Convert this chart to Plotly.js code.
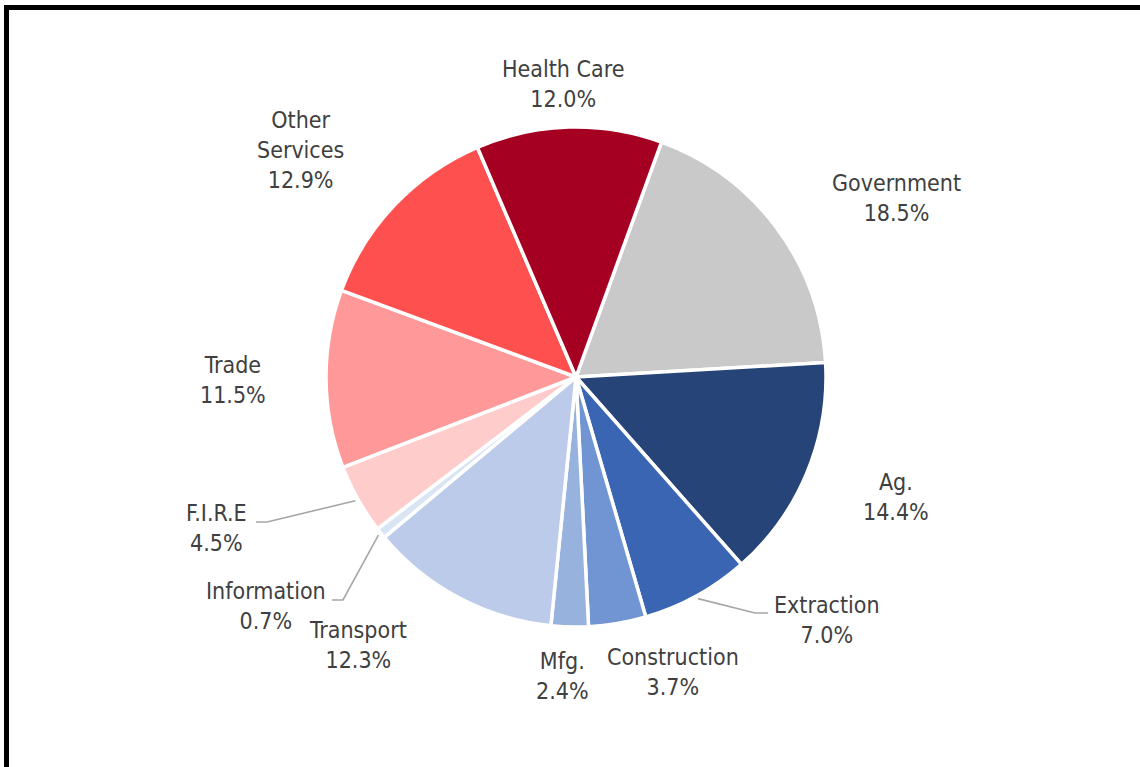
<!DOCTYPE html>
<html>
<head>
<meta charset="utf-8">
<script src="https://cdn.plot.ly/plotly-3.0.1.min.js"></script>
<style>
html,body{margin:0;padding:0;background:#fff;}
#wrap{position:relative;width:1140px;height:767px;overflow:hidden;}
#frame{position:absolute;left:4px;top:5px;width:1200px;height:800px;border-left:5px solid #000;border-top:5px solid #000;box-sizing:border-box;pointer-events:none;}
#chart{position:absolute;left:0;top:0;width:1140px;height:767px;}
</style>
</head>
<body>
<div id="wrap">
<div id="chart"></div>
<div id="frame"></div>
</div>
<script>
// ---- data ----
var categories = ["Government","Ag.","Extraction","Construction","Mfg.","Transport","Information","F.I.R.E","Trade","Other<br>Services","Health Care"];
var shares = [18.5,14.4,7.0,3.7,2.4,12.3,0.7,4.5,11.5,12.9,12.0];
var sliceColors = ["#C9C9C9","#264478","#3A65B2","#7195D2","#98B2DE","#BBCBE9","#DAE5F4","#FFCCCC","#FF9999","#FF5050","#A50021"];

// ---- layout (pixels) ----
var W = 1140, H = 767;
var cx = 576, cy = 377, R = 250, startAngle = 20;
// label centre positions, px
var labelPos = [[896,198],[896,497],[827,620],[673,672],[562,676],[358,645],[266,606],[216,528],[233,380],[300,150],[563,84]];
// leader lines: index -> [text-side start, elbow]
var leaders = {2: [[768,613],[755,613]], 6: [[332,600],[343,600]], 7: [[256,522],[267,522]]};

function px(x){return x / W;}
function py(y){return 1 - y / H;}

var total = shares.reduce(function(a,b){return a+b;}, 0);
var cum = 0;
var midAngles = shares.map(function(v){
  var m = startAngle + (cum + v/2) / total * 360;
  cum += v;
  return m * Math.PI / 180;
});

var fontSpec = {family: "DejaVu Sans Condensed, DejaVu Sans, Verdana, sans-serif", size: 23, color: "#404040"};

var annotations = categories.map(function(c, i){
  return {
    xref: "paper", yref: "paper",
    x: px(labelPos[i][0]), y: py(labelPos[i][1]),
    xanchor: "center", yanchor: "middle",
    text: c + "<br>" + shares[i].toFixed(1) + "%",
    showarrow: false, align: "center",
    font: fontSpec
  };
});

var shapes = Object.keys(leaders).map(function(k){
  var i = +k;
  var tipR = R + 3;
  var tx = cx + tipR * Math.sin(midAngles[i]);
  var ty = cy - tipR * Math.cos(midAngles[i]);
  var s = leaders[k][0], e = leaders[k][1];
  return {
    type: "path", xref: "paper", yref: "paper",
    path: "M " + px(s[0]) + " " + py(s[1]) + " L " + px(e[0]) + " " + py(e[1]) + " L " + px(tx) + " " + py(ty),
    line: {color: "#A6A6A6", width: 1.6}
  };
});

var trace = {
  type: "pie",
  labels: categories,
  values: shares,
  sort: false,
  direction: "clockwise",
  rotation: startAngle,
  marker: {colors: sliceColors, line: {color: "#FFFFFF", width: 3.5}},
  textinfo: "none",
  hoverinfo: "none",
  domain: {x: [px(cx - R), px(cx + R)], y: [py(cy + R), py(cy - R)]}
};

var layout = {
  width: W,
  height: H,
  margin: {l: 0, r: 0, t: 0, b: 0},
  showlegend: false,
  paper_bgcolor: "#FFFFFF",
  font: fontSpec,
  annotations: annotations,
  shapes: shapes
};

Plotly.newPlot("chart", [trace], layout, {staticPlot: true});
</script>
</body>
</html>
